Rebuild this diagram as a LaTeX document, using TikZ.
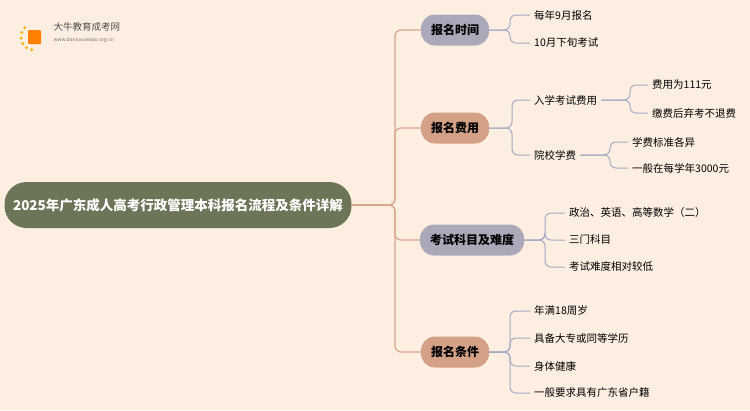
\documentclass[tikz,border=0pt]{standalone}
\usepackage{fontspec}
\setmainfont{Noto Sans CJK SC}
\usetikzlibrary{positioning}
\definecolor{bgc}{HTML}{FDEEE2}
\definecolor{rootc}{HTML}{6C7558}
\definecolor{grayc}{HTML}{ABA8BA}
\definecolor{tanc}{HTML}{D4A186}
\definecolor{tlink}{HTML}{D9A58B}
\definecolor{blink}{HTML}{A3AAC4}
\begin{document}
\begin{tikzpicture}[x=1pt,y=-1pt,
    root/.style={fill=rootc, text=white, font=\bfseries\fontsize{13.5}{15}\selectfont, rounded corners=22pt, minimum height=46pt, minimum width=347pt},
    branch/.style={font=\bfseries\fontsize{12}{14}\selectfont, rounded corners=14pt, minimum height=31pt, inner xsep=10pt},
    leaf/.style={anchor=west, font=\fontsize{10.5}{12}\selectfont, inner sep=4pt},
    tline/.style={draw=tlink, line width=1.2pt, rounded corners=6pt},
    bline/.style={draw=blink, line width=1pt, rounded corners=6pt}
  ]
  \fill[bgc] (0,0) rectangle (750,410);
  \useasboundingbox (0,0) rectangle (750,410);

  % logo
  \foreach \a in {100,125,...,225} \fill[orange!60!yellow] (34,37) ++(\a:13) circle (1.6);
  \fill[orange, rounded corners=1pt] (28,30) rectangle (41,44);
  \node[anchor=west, font=\fontsize{9.5}{10}\selectfont, text=black!70] (logo) at (50,27) {大牛教育成考网};
  \node[anchor=west, font=\fontsize{5}{6}\selectfont, text=black!55] (url) at (50,40) {www.daniuxuexiao.org.cn};

  % root and branches
  \node[root] (root) at (178,205) {2025年广东成人高考行政管理本科报名流程及条件详解};
  \node[branch, fill=grayc] (time) at (455,30) {报名时间};
  \node[branch, fill=tanc] (fee) at (455,128) {报名费用};
  \node[branch, fill=grayc] (exam) at (472,240) {考试科目及难度};
  \node[branch, fill=tanc] (cond) at (455,352) {报名条件};

  \foreach \b in {time,fee,exam,cond}
    \draw[tline] (root.east) -- (395,205) |- (\b.west);

  % leaves
  \node[leaf] (t1) at (530,15) {每年9月报名};
  \node[leaf] (t2) at (530,43) {10月下旬考试};
  \node[leaf] (f1) at (530,100) {入学考试费用};
  \node[leaf] (f2) at (530,155) {院校学费};
  \node[leaf] (f11) at (648,85) {费用为111元};
  \node[leaf] (f12) at (648,113) {缴费后弃考不退费};
  \node[leaf] (f21) at (628,142) {学费标准各异};
  \node[leaf] (f22) at (628,168) {一般在每学年3000元};
  \node[leaf] (e1) at (565,213) {政治、英语、高等数学（二）};
  \node[leaf] (e2) at (565,240) {三门科目};
  \node[leaf] (e3) at (565,267) {考试难度相对较低};
  \node[leaf] (c1) at (530,311) {年满18周岁};
  \node[leaf] (c2) at (530,338) {具备大专或同等学历};
  \node[leaf] (c3) at (530,366) {身体健康};
  \node[leaf] (c4) at (530,393) {一般要求具有广东省户籍};

  \foreach \c in {t1,t2} \draw[bline] (time.east) -- (510,30) |- (\c.west);
  \foreach \c in {f1,f2} \draw[bline] (fee.east) -- (512,128) |- (\c.west);
  \foreach \c in {f11,f12} \draw[bline] (f1.east) -- (630,100) |- (\c.west);
  \foreach \c in {f21,f22} \draw[bline] (f2.east) -- (610,155) |- (\c.west);
  \foreach \c in {e1,e2,e3} \draw[bline] (exam.east) -- (545,240) |- (\c.west);
  \foreach \c in {c1,c2,c3,c4} \draw[bline] (cond.east) -- (510,352) |- (\c.west);
\end{tikzpicture}
\end{document}
